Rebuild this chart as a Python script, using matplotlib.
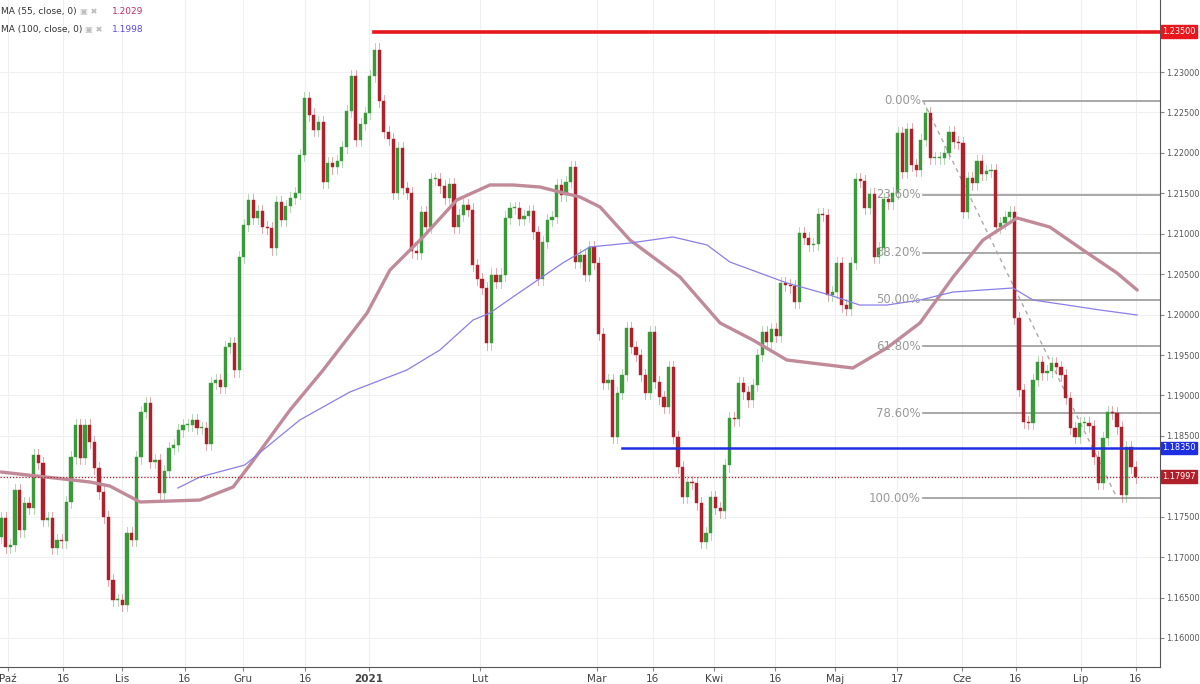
import matplotlib.pyplot as plt
import numpy as np

plt.rcParams['font.family'] = 'DejaVu Sans'

# daily closes (Oct 2020 - Jul 2021)
closes = [
    1.17484, 1.17125, 1.17150, 1.17830, 1.17335, 1.17669, 1.17608, 1.18263, 1.18164, 1.17459,
    1.17484, 1.17113, 1.17212, 1.17199, 1.17682, 1.18238, 1.18634, 1.18226, 1.18634, 1.18424,
    1.18102, 1.17805, 1.17496, 1.16717, 1.16470, 1.16470, 1.16408, 1.17298, 1.17212, 1.18238,
    1.18795, 1.18906, 1.18177, 1.18201, 1.17793, 1.18065, 1.18350, 1.18387, 1.18572, 1.18634,
    1.18634, 1.18696, 1.18597, 1.18597, 1.18399, 1.19154, 1.19191, 1.19104, 1.19599, 1.19648,
    1.19314,
    1.20712, 1.21108, 1.21417, 1.21195, 1.21281, 1.21083, 1.21071, 1.20823, 1.21392, 1.21170,
    1.21343, 1.21442, 1.21504, 1.21974, 1.22679, 1.22469, 1.22283, 1.22382, 1.21640, 1.21875,
    1.21825, 1.21900, 1.22073, 1.22518, 1.22951, 1.22159, 1.22357, 1.22493, 1.22951, 1.23273,
    1.22642, 1.22258, 1.22172, 1.21504, 1.22060, 1.21566, 1.21504, 1.20786, 1.20762, 1.21269,
    1.21083, 1.21677, 1.21677, 1.21590, 1.21442, 1.21615, 1.21083, 1.21232, 1.21355, 1.21294,
    1.20613, 1.20440, 1.20329,
    1.19648, 1.20490, 1.20403, 1.20490, 1.21195, 1.21318, 1.21318, 1.21182, 1.21219, 1.21281,
    1.21021, 1.20440, 1.20898, 1.21170, 1.21207, 1.21603, 1.21479, 1.21640, 1.21825, 1.20650,
    1.20737, 1.20490, 1.20836, 1.20638, 1.19760, 1.19154, 1.19191, 1.18486, 1.19030, 1.19253,
    1.19834, 1.19599, 1.19500, 1.19253, 1.19030, 1.19784, 1.19166, 1.18980, 1.18857, 1.19352,
    1.18486, 1.18115, 1.17744, 1.17929, 1.17917, 1.17669, 1.17187, 1.17298, 1.17744, 1.17608,
    1.17570, 1.18139,
    1.18721, 1.18708, 1.19154, 1.19042, 1.18943, 1.19129, 1.19500, 1.19784, 1.19661, 1.19822,
    1.19735, 1.20391, 1.20366, 1.20353, 1.20156, 1.21009, 1.20947, 1.20861, 1.20873, 1.21244,
    1.21232, 1.20242, 1.20279, 1.20638, 1.20118, 1.20069, 1.20638, 1.21677, 1.21652, 1.21318,
    1.21491, 1.20712, 1.20823, 1.21430, 1.21392, 1.21504, 1.22246, 1.21764, 1.22295, 1.21850,
    1.21788, 1.22159, 1.22493, 1.21937, 1.21937, 1.21937, 1.21999, 1.22258, 1.22135, 1.22122,
    1.21269, 1.21689,
    1.21627, 1.21900, 1.21739, 1.21776, 1.21788, 1.21083, 1.21133, 1.21207, 1.21269, 1.19958,
    1.19067, 1.18671, 1.18659, 1.19191, 1.19413, 1.19277, 1.19302, 1.19401, 1.19352, 1.19253,
    1.18968, 1.18597, 1.18486, 1.18659, 1.18659, 1.18622, 1.18238, 1.17917, 1.18473, 1.18795,
    1.18783, 1.18609, 1.17768, 1.18362, 1.18115, 1.17997,
]
first_open = 1.17249

# moving averages, (bar index, value)
ma55_idx = [0, 7.7, 19.1, 23.3, 29.8, 42.6, 49.7, 53.3, 61.9, 69.0, 78.4, 83.3, 90.4, 97.6,
            104.7, 109.6, 115.4, 124.0, 128.3, 134.7, 145.4, 154.0, 161.0, 168.3, 182.4,
            189.7, 196.8, 203.9, 210.3, 217.6, 224.6, 231.7, 239.0, 243.3]
ma55_val = [1.18053, 1.18003, 1.17929, 1.17880, 1.17682, 1.17706, 1.17867, 1.18139, 1.18820,
            1.19314, 1.20019, 1.20551, 1.20960, 1.21417, 1.21603, 1.21603, 1.21578, 1.21454,
            1.21331, 1.20922, 1.20465, 1.19896, 1.19686, 1.19438, 1.19339, 1.19587, 1.19896,
            1.20465, 1.20922, 1.21195, 1.21083, 1.20799, 1.20514, 1.20304]
ma100_idx = [37.9, 42.6, 52.2, 64.0, 74.7, 86.9, 94.0, 101.1, 104.7, 109.6, 120.3, 126.1,
             134.7, 143.9, 151.2, 156.1, 168.3, 177.5, 183.9, 189.7, 196.8, 203.9, 210.3,
             216.7, 221.0, 228.3, 235.3, 243.3]
ma100_val = [1.17855, 1.17991, 1.18139, 1.18696, 1.19042, 1.19314, 1.19562, 1.19933, 1.20019,
             1.20217, 1.20638, 1.20836, 1.20885, 1.20960, 1.20861, 1.20650, 1.20391, 1.20242,
             1.20118, 1.20118, 1.20180, 1.20279, 1.20304, 1.20329, 1.20180, 1.20118, 1.20057,
             1.19995]

tick_idx = [1.5, 13.3, 25.9, 39.4, 51.8, 65.1, 78.8, 102.6, 127.6, 139.6, 152.7, 165.8,
            178.6, 191.9, 205.8, 217.3, 231.3, 243.0]
tick_lab = ['Paź', '16', 'Lis', '16', 'Gru', '16', '2021', 'Lut', 'Mar', '16', 'Kwi', '16',
            'Maj', '17', 'Cze', '16', 'Lip', '16']
yticks = [1.16, 1.165, 1.17, 1.175, 1.185, 1.19, 1.195, 1.20, 1.205, 1.21, 1.215, 1.22,
          1.225, 1.23]

resistance = 1.2350
support = 1.1835
last_price = 1.17997
fib_high, fib_low = 1.22642, 1.17731
fib_levels = [0.0, 0.236, 0.382, 0.5, 0.618, 0.786, 1.0]
fib_start, fib_end_line = 197.5, 239.0

fig = plt.figure(figsize=(12, 6.84), dpi=100)
ax = fig.add_axes([0, 1 - 667 / 684, 1160 / 1200, 667 / 684])
ax.set_xlim(-0.2, 248.2)
ax.set_ylim(1.15641, 1.23891)

for t in tick_idx:
    ax.axvline(t, color='#eef0f3', lw=0.8, zorder=0)
for y in yticks + [1.18]:
    ax.axhline(y, color='#eef0f3', lw=0.8, zorder=0)

green, red = '#3a9a3a', '#b0202a'
opens = [first_open] + closes[:-1]
for i, (o, c) in enumerate(zip(opens, closes)):
    col = green if c >= o else red
    hi, lo = max(o, c) + 0.0008, min(o, c) - 0.0008
    ax.plot([i, i], [lo, hi], color=col, lw=0.6, alpha=0.45, zorder=2)
    h = abs(c - o)
    if h < 0.00012:
        h = 0.00012
    ax.add_patch(plt.Rectangle((i - 0.34, min(o, c)), 0.68, h, facecolor=col,
                               edgecolor=col, lw=0.3, zorder=3))

ax.plot(ma55_idx, ma55_val, color='#c08a98', lw=2.4, zorder=4, solid_capstyle='round',
        solid_joinstyle='round')
ax.plot(ma100_idx, ma100_val, color='#8a7fe8', lw=0.9, zorder=4)

# horizontal levels
ax.plot([79.8, 248.2], [resistance] * 2, color='#e8161d', lw=2.6, zorder=5)
ax.plot([133.0, 248.2], [support] * 2, color='#1d2fe0', lw=1.8, zorder=5)
ax.axhline(last_price, color='#b0202a', lw=0.9, ls=(0, (1, 1.5)), zorder=5)

# fibonacci retracement
for f in fib_levels:
    lv = fib_high - (fib_high - fib_low) * f
    ax.plot([fib_start, 248.2], [lv, lv], color='#9a9a9a', lw=1.2, zorder=1)
    ax.text(fib_start - 0.5, lv, f'{f * 100:.2f}%', ha='right', va='center', fontsize=8.5,
            color='#999999', zorder=6)
ax.plot([fib_start, fib_end_line], [fib_high, fib_low], color='#aaaaaa', lw=1.0,
        ls=(0, (3, 3)), zorder=1)

ax.set_xticks(tick_idx)
ax.set_xticklabels(tick_lab, fontsize=7.5, color='#444444')
for lab in ax.get_xticklabels():
    if lab.get_text() == '2021':
        lab.set_fontweight('bold')
ax.tick_params(axis='x', length=3, color='#888888', pad=2)
ax.yaxis.tick_right()
ax.set_yticks(yticks)
ax.set_yticklabels([f'{v:.5f}' for v in yticks], fontsize=5.9, color='#555555')
ax.tick_params(axis='y', length=3, color='#888888', pad=1.5)
for s in ['top', 'left']:
    ax.spines[s].set_visible(False)
ax.spines['right'].set_color('#555555')
ax.spines['bottom'].set_color('#555555')

for val, col in [(resistance, '#e8161d'), (support, '#1d2fe0'), (last_price, '#b0202a')]:
    ax.text(1.002, val, f'{val:.5f}', transform=ax.get_yaxis_transform(), ha='left',
            va='center', fontsize=5.9, color='white',
            bbox=dict(boxstyle='square,pad=0.2', facecolor=col, edgecolor=col))

# legend text
fig.text(0.001, 0.983, 'MA (55, close, 0)', fontsize=6.5, color='#333333', va='center')
fig.text(0.067, 0.983, '\u25a3 \u2716', fontsize=6, color='#bbbbbb', va='center')
fig.text(0.0935, 0.983, '1.2029', fontsize=6.5, color='#c0306a', va='center')
fig.text(0.001, 0.957, 'MA (100, close, 0)', fontsize=6.5, color='#333333', va='center')
fig.text(0.071, 0.957, '\u25a3 \u2716', fontsize=6, color='#bbbbbb', va='center')
fig.text(0.0935, 0.957, '1.1998', fontsize=6.5, color='#5a4ee0', va='center')

fig.savefig('out.png', dpi=100, facecolor='white')
